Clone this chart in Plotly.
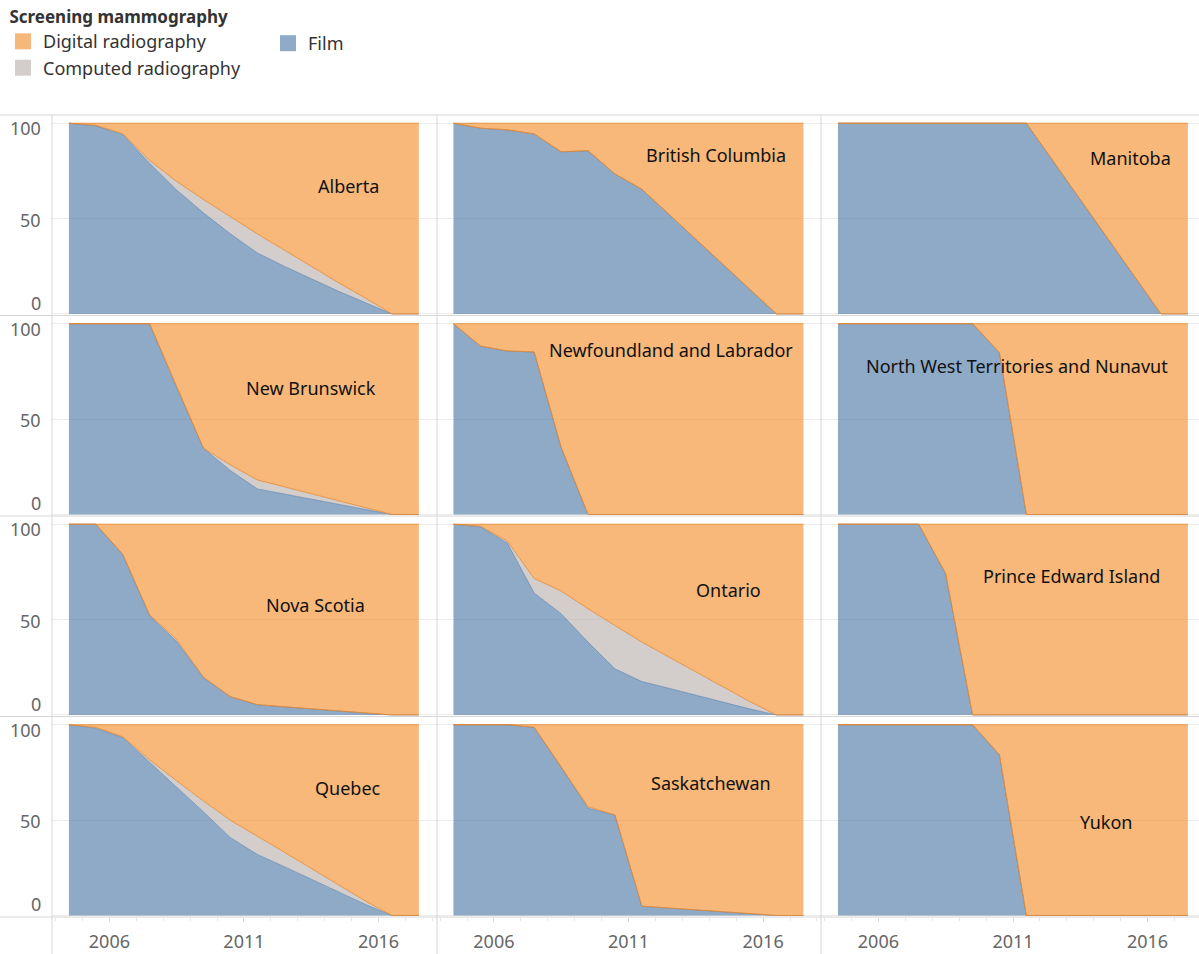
import math
from datetime import datetime
import plotly.graph_objects as go
from plotly.subplots import make_subplots

# ---------------- data ----------------
years = list(range(2004, 2018))
provinces = ["Alberta", "British Columbia", "Manitoba",
             "New Brunswick", "Newfoundland and Labrador", "North West Territories and Nunavut",
             "Nova Scotia", "Ontario", "Prince Edward Island",
             "Quebec", "Saskatchewan", "Yukon"]

film = {
    "Alberta": [100, 98.6, 94, 79, 65, 53, 42, 32, 25, 18.5, 12, 6, 0, 0],
    "British Columbia": [100, 97.4, 96.5, 94.4, 85, 85.6, 73.4, 65.4, 52.3, 39.3, 26.3, 13.2, 0, 0],
    "Manitoba": [100, 100, 100, 100, 100, 100, 100, 100, 80, 60, 40, 20, 0, 0],
    "New Brunswick": [100, 100, 100, 100, 67, 34.7, 23, 13.4, 10.7, 8, 5.4, 2.7, 0, 0],
    "Newfoundland and Labrador": [100, 88.3, 85.7, 85.2, 35.2, 0, 0, 0, 0, 0, 0, 0, 0, 0],
    "North West Territories and Nunavut": [100, 100, 100, 100, 100, 100, 84.8, 0, 0, 0, 0, 0, 0, 0],
    "Nova Scotia": [100, 100, 84.2, 52, 38.5, 19.5, 9.6, 5.4, 4.3, 3.2, 2.2, 1.1, 0, 0],
    "Ontario": [100, 98.6, 90.2, 63.9, 53.1, 38.2, 24.2, 17.5, 14, 10.4, 6.8, 3.2, 0, 0],
    "Prince Edward Island": [100, 100, 100, 100, 74.1, 0, 0, 0, 0, 0, 0, 0, 0, 0],
    "Quebec": [100, 98.2, 93.3, 80.4, 67.6, 54.3, 40.8, 32, 25.6, 19.1, 12.4, 5.9, 0, 0],
    "Saskatchewan": [100, 100, 100, 98.6, 78, 56.2, 52.7, 4.9, 3.9, 2.9, 1.9, 0.9, 0, 0],
    "Yukon": [100, 100, 100, 100, 100, 100, 84.2, 0, 0, 0, 0, 0, 0, 0],
}
computed = {
    "Alberta": [0, 0.3, 0.5, 1.5, 4.5, 7, 9, 10, 8.5, 6.5, 4.5, 2.5, 0, 0],
    "British Columbia": [0] * 14,
    "Manitoba": [0] * 14,
    "New Brunswick": [0, 0, 0, 0, 0, 0, 3, 4.7, 3.8, 2.9, 1.8, 0.9, 0, 0],
    "Newfoundland and Labrador": [0] * 14,
    "North West Territories and Nunavut": [0] * 14,
    "Nova Scotia": [0, 0, 0, 0.5, 1, 0.3, 0, 0, 0, 0, 0, 0, 0, 0],
    "Ontario": [0, 0.4, 1, 7.6, 11.9, 17.5, 22.7, 20.7, 16.4, 12.2, 8.1, 3.9, 0, 0],
    "Prince Edward Island": [0] * 14,
    "Quebec": [0, 0.4, 0.4, 1.2, 3, 5.7, 9.1, 9.7, 7.6, 5.6, 3.8, 1.8, 0, 0],
    "Saskatchewan": [0, 0, 0, 0, 0, 0.8, 0, 0, 0, 0, 0, 0, 0, 0],
    "Yukon": [0] * 14,
}
digital = {
    "Alberta": [0, 1.1, 5.5, 19.5, 30.5, 40, 49, 58, 66.5, 75, 83.5, 91.5, 100, 100],
    "British Columbia": [0, 2.6, 3.5, 5.6, 15, 14.4, 26.6, 34.6, 47.7, 60.7, 73.7, 86.8, 100, 100],
    "Manitoba": [0, 0, 0, 0, 0, 0, 0, 0, 20, 40, 60, 80, 100, 100],
    "New Brunswick": [0, 0, 0, 0, 33, 65.3, 74, 81.9, 85.5, 89.1, 92.8, 96.4, 100, 100],
    "Newfoundland and Labrador": [0, 11.7, 14.3, 14.8, 64.8, 100, 100, 100, 100, 100, 100, 100, 100, 100],
    "North West Territories and Nunavut": [0, 0, 0, 0, 0, 0, 15.2, 100, 100, 100, 100, 100, 100, 100],
    "Nova Scotia": [0, 0, 15.8, 47.5, 60.5, 80.2, 90.4, 94.6, 95.7, 96.8, 97.8, 98.9, 100, 100],
    "Ontario": [0, 1.0, 8.8, 28.5, 35.0, 44.3, 53.1, 61.8, 69.6, 77.4, 85.1, 92.9, 100, 100],
    "Prince Edward Island": [0, 0, 0, 0, 25.9, 100, 100, 100, 100, 100, 100, 100, 100, 100],
    "Quebec": [0, 1.4, 6.3, 18.4, 29.4, 40, 50.1, 58.3, 66.8, 75.3, 83.8, 92.3, 100, 100],
    "Saskatchewan": [0, 0, 0, 1.4, 22, 43, 47.3, 95.1, 96.1, 97.1, 98.1, 99.1, 100, 100],
    "Yukon": [0, 0, 0, 0, 0, 0, 15.8, 100, 100, 100, 100, 100, 100, 100],
}
x_tick_years = [2006, 2011, 2016]
y_tick_values = [100, 50, 0]

# ---------------- style / layout ----------------
FONT = "Noto Sans"
ORANGE = "rgba(242,142,43,0.63)"
BLUE = "rgba(78,121,167,0.63)"
GREY = "rgba(186,176,172,0.63)"
EDGE_ORANGE = "rgba(232,132,40,0.75)"
EDGE_BLUE = "rgba(78,121,167,0.7)"
SEP = "#d6d6d6"

W, H = 1199, 954
ML, MR, MT, MB = 52, 0, 115, 37
PW, PH = W - ML - MR, H - MT - MB
col_px = [385, 384, 378]
xranges = [(2003.87, 2018.17), (2003.887, 2018.15), (2003.868, 2017.909)]


def fy(v):
    y = int(math.floor(v))
    a, b = datetime(y, 1, 1), datetime(y + 1, 1, 1)
    return (a + (b - a) * (v - y)).strftime("%Y-%m-%d %H:%M:%S")


xdates = [f"{y}-07-01" for y in years]

fig = make_subplots(rows=4, cols=3, column_widths=col_px,
                    horizontal_spacing=0, vertical_spacing=0)

for k, prov in enumerate(provinces):
    r, c = k // 3 + 1, k % 3 + 1
    sg = f"s{k}"
    fig.add_trace(go.Scatter(x=xdates, y=film[prov], name="Film", stackgroup=sg, groupnorm="percent",
                             mode="lines", line=dict(color=EDGE_BLUE, width=0.8), fillcolor=BLUE,
                             legendgroup="film", showlegend=False,
                             hovertemplate=prov + "<br>%{x|%Y}: Film %{y:.1f}%<extra></extra>"), row=r, col=c)
    fig.add_trace(go.Scatter(x=xdates, y=computed[prov], name="Computed radiography", stackgroup=sg,
                             mode="lines", line=dict(color=EDGE_ORANGE, width=1), fillcolor=GREY,
                             legendgroup="computed", showlegend=False,
                             hovertemplate=prov + "<br>%{x|%Y}: Computed<extra></extra>"), row=r, col=c)
    fig.add_trace(go.Scatter(x=xdates, y=digital[prov], name="Digital radiography", stackgroup=sg,
                             mode="lines", line=dict(color=EDGE_ORANGE, width=1), fillcolor=ORANGE,
                             legendgroup="digital", showlegend=False,
                             hovertemplate=prov + "<br>%{x|%Y}: Digital<extra></extra>"), row=r, col=c)

# legend entries (square swatches)
for name, col, grp, lg in [("Digital radiography", "rgb(245,183,122)", "digital", "legend"),
                           ("Computed radiography", "rgb(212,205,203)", "computed", "legend"),
                           ("Film", "rgb(144,171,200)", "film", "legend2")]:
    fig.add_trace(go.Scatter(x=[None], y=[None], mode="markers", name=name, legendgroup=grp, legend=lg,
                             marker=dict(symbol="square", size=16, color=col, line=dict(width=0)),
                             showlegend=True), row=1, col=1)

for r in range(1, 5):
    for c in range(1, 4):
        a, b = xranges[c - 1]
        fig.update_xaxes(row=r, col=c, type="date", range=[fy(a), fy(b)],
                         showgrid=False, zeroline=False, showline=False,
                         tickmode="array", tickvals=[f"{y}-01-01" for y in x_tick_years],
                         ticktext=[str(y) for y in x_tick_years],
                         showticklabels=(r == 4), ticks="outside" if r == 4 else "",
                         ticklen=4, tickcolor="#d9d9d9", ticklabelstandoff=4,
                         tickfont=dict(family=FONT, size=18, color="#666666"),
                         minor=dict(tickmode="linear", tick0="2004-01-01", dtick="M12",
                                    ticks="outside" if r == 4 else "", ticklen=3,
                                    tickcolor="#e6e6e6", showgrid=False),
                         fixedrange=True)
        fig.update_yaxes(row=r, col=c, range=[-0.8, 104.3], tickmode="array",
                         tickvals=[0, 50, 100], showticklabels=False,
                         showgrid=True, gridcolor="#ececec", gridwidth=1,
                         zeroline=False, showline=False, fixedrange=True)

annotations = []
# y tick labels (first column of each row)
for r in range(4):
    yname = "y" if r == 0 else f"y{r * 3 + 1}"
    for v in y_tick_values:
        shift = {100: -5, 50: -1, 0: 11}[v]
        annotations.append(dict(x=(43 - ML) / PW, xref="paper", xanchor="right",
                                y=v, yref=yname, yanchor="middle", yshift=shift,
                                text=str(v), showarrow=False,
                                font=dict(family=FONT, size=18, color="#666666")))

# panel labels
label_px = {
    "Alberta": (348, 186), "British Columbia": (716, 155), "Manitoba": (1130, 158),
    "New Brunswick": (311, 388), "Newfoundland and Labrador": (671, 350),
    "North West Territories and Nunavut": (1017, 366),
    "Nova Scotia": (315, 605), "Ontario": (728, 590), "Prince Edward Island": (1071, 576),
    "Quebec": (348, 788), "Saskatchewan": (711, 783), "Yukon": (1106, 822),
}
for prov in provinces:
    px, py = label_px[prov]
    annotations.append(dict(x=(px - ML) / PW, y=(H - MB - py) / PH, xref="paper", yref="paper",
                            xanchor="center", yanchor="middle", text=prov, showarrow=False,
                            font=dict(family=FONT, size=18, color="#111111")))

# grid separators
shapes = []
for i in range(5):
    yy = 1 - i / 4
    shapes.append(dict(type="line", xref="paper", yref="paper", x0=-ML / PW, x1=1,
                       y0=yy, y1=yy, line=dict(color=SEP, width=1), layer="above"))
xs = [0, col_px[0] / PW, (col_px[0] + col_px[1]) / PW]
for xx in xs:
    shapes.append(dict(type="line", xref="paper", yref="paper", x0=xx, x1=xx,
                       y0=-MB / PH, y1=1, line=dict(color=SEP, width=1), layer="above"))

fig.update_layout(
    width=W, height=H,
    margin=dict(l=ML, r=MR, t=MT, b=MB, autoexpand=False),
    paper_bgcolor="white", plot_bgcolor="white",
    font=dict(family=FONT, color="#333333"),
    annotations=annotations, shapes=shapes,
    legend=dict(title=dict(text="&nbsp;<b>Screening mammography</b>",
                           font=dict(family=FONT, size=17, color="#333333")),
                x=(3 - ML) / PW, xanchor="left", y=1 + (MT - 1) / PH, yanchor="top",
                orientation="v", font=dict(family=FONT, size=18, color="#333333"),
                bgcolor="rgba(0,0,0,0)", itemclick="toggle", tracegroupgap=0),
    legend2=dict(x=(268 - ML) / PW, xanchor="left", y=1 + (MT - 25) / PH, yanchor="top",
                 orientation="v", font=dict(family=FONT, size=18, color="#333333"),
                 bgcolor="rgba(0,0,0,0)"),
    hovermode="closest",
)

fig.write_html("out.html", config={"displayModeBar": False},
               post_script="document.body.style.margin='0';document.body.style.padding='0';"
                           "document.body.style.overflow='hidden';")
